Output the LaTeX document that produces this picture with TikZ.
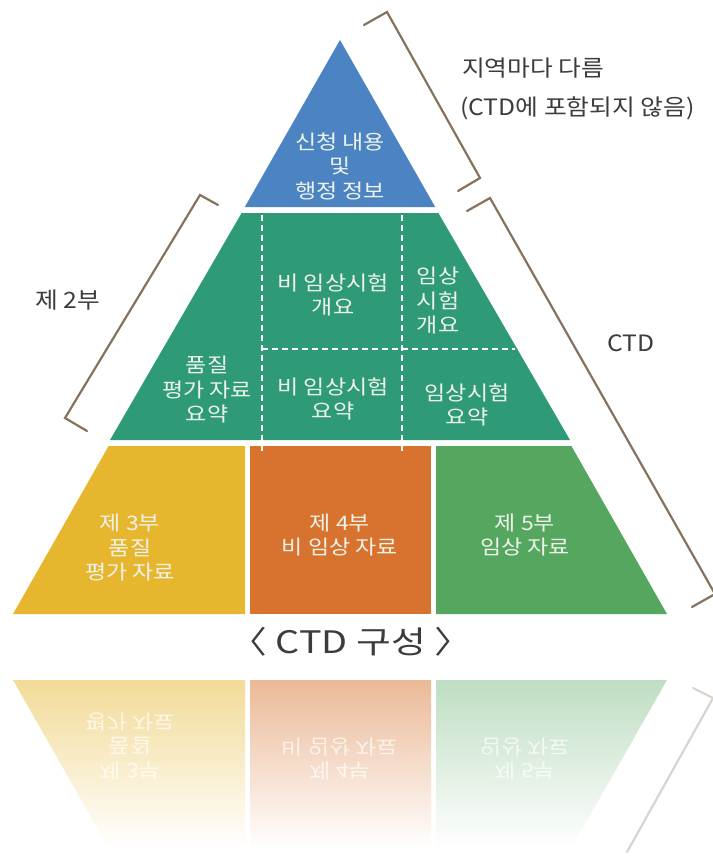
\documentclass[tikz,border=0pt]{standalone}
\usepackage{fontspec}
\setmainfont{Noto Sans CJK KR}
\newfontfamily\krin{Noto Sans CJK KR}[FakeStretch=1.15]
\newfontfamily\krout{Noto Sans CJK KR}[FakeStretch=1.1]
\newfontfamily\krtitle{Noto Sans CJK KR}[FakeStretch=1.22]
\definecolor{cblue}{HTML}{4C83C3}
\definecolor{cteal}{HTML}{2F9A77}
\definecolor{cyel}{HTML}{E6B62E}
\definecolor{corg}{HTML}{D7732E}
\definecolor{cgrn}{HTML}{55A75F}
\definecolor{cbrk}{HTML}{85735F}
\definecolor{ctxt}{HTML}{EEF3EA}
\definecolor{cdark}{HTML}{3C3C3C}
\begin{document}
\begin{tikzpicture}[x=1pt,y=-1pt,
  lbl/.style={text=ctxt, font=\krin\fontsize{20}{24.5}\selectfont, align=center, inner sep=0pt},
  rlbl/.style={text=white, text opacity=0.7, font=\krin\fontsize{20}{24.5}\selectfont, align=center, inner sep=0pt},
  outlbl/.style={text=cdark, font=\krout\fontsize{22.5}{26}\selectfont, align=left, inner sep=0pt},
  brk/.style={draw=cbrk, line width=2.2pt, line join=miter, line cap=round},
  dsh/.style={draw=white, line width=1.6pt, dash pattern=on 6pt off 4pt}]
\useasboundingbox (0,0) rectangle (712,861);
\fill[white] (0,0) rectangle (712,861);

% ---- reflection ----
\shade[top color=cyel!50!white, bottom color=white] (13,680) -- (245,680) -- (245,848) -- (108.6,848) -- cycle;
\shade[top color=corg!50!white, bottom color=white] (250,680) -- (431,680) -- (431,848) -- (250,848) -- cycle;
\shade[top color=cgrn!38!white, bottom color=white] (436,680) -- (667,680) -- (571.4,848) -- (436,848) -- cycle;
\begin{scope}[shift={(130,746)}, yscale=-1]
  \node[rlbl, transform shape] (r3) at (0,0) {제 3부\\품질\\평가 자료};
\end{scope}
\begin{scope}[shift={(340,759)}, yscale=-1]
  \node[rlbl, transform shape] (r4) at (0,0) {제 4부\\비 임상 자료};
\end{scope}
\begin{scope}[shift={(525,759)}, yscale=-1]
  \node[rlbl, transform shape] (r5) at (0,0) {제 5부\\임상 자료};
\end{scope}
\coordinate (rb1) at (693,688);
\coordinate (rb2) at (713,698);
\coordinate (rb3) at (627,852);
\draw[brk, draw opacity=0.3] (rb1) -- (rb2) -- (rb3);

% ---- pyramid ----
\fill[cblue] (340,40) -- (435.2,207) -- (244.8,207) -- cycle;
\fill[cteal] (241.6,213) -- (438.4,213) -- (570,440) -- (110,440) -- cycle;
\fill[cyel] (108.6,446) -- (245,446) -- (245,614) -- (13,614) -- cycle;
\fill[corg] (250,446) -- (431,446) -- (431,614) -- (250,614) -- cycle;
\fill[cgrn] (436,446) -- (571.4,446) -- (667,614) -- (436,614) -- cycle;

% dashed divisions
\draw[dsh] (262,215) -- (262,452);
\draw[dsh] (402,215) -- (402,452);
\draw[dsh] (262,349) -- (515,349);

% texts in shapes
\node[lbl] (t1) at (340,166) {신청 내용\\및\\행정 정보};
\node[lbl] (t2a) at (333,295) {비 임상시험\\개요};
\node[lbl] (t2b) at (438,301) {임상\\시험\\개요};
\node[lbl] (t2c) at (207,390) {품질\\평가 자료\\요약};
\node[lbl] (t2d) at (333,399) {비 임상시험\\요약};
\node[lbl] (t2e) at (467,405) {임상시험\\요약};
\node[lbl] (t3) at (130,548) {제 3부\\품질\\평가 자료};
\node[lbl] (t4) at (340,535) {제 4부\\비 임상 자료};
\node[lbl] (t5) at (525,535) {제 5부\\임상 자료};

% title
\node[text=cdark, font=\krtitle\fontsize{31}{34}\selectfont, inner sep=0pt] (title) at (351,642) {〈 CTD 구성 〉};

% outside labels
\node[outlbl, anchor=west] (reg1) at (462,68) {지역마다 다름};
\node[outlbl, anchor=west] (reg2) at (460,108) {(CTD에 포함되지 않음)};
\node[outlbl] (p2) at (68,300) {제 2부};
\node[outlbl] (ctd) at (631,343) {CTD};

% brackets
\coordinate (a1) at (364,25);
\coordinate (a2) at (387,12);
\coordinate (a3) at (480,178);
\coordinate (a4) at (458,191);
\draw[brk] (a1) -- (a2) -- (a3) -- (a4);

\coordinate (b1) at (467,211);
\coordinate (b2) at (490,198);
\coordinate (b3) at (715,594);
\coordinate (b4) at (692,607);
\draw[brk] (b1) -- (b2) -- (b3) -- (b4);

\coordinate (c1) at (218,205);
\coordinate (c2) at (200,195);
\coordinate (c3) at (65,418);
\coordinate (c4) at (87,431);
\draw[brk] (c1) -- (c2) -- (c3) -- (c4);
\end{tikzpicture}
\end{document}
